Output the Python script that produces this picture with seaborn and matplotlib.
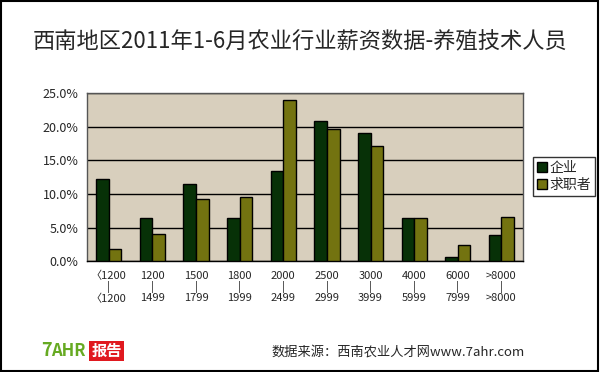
import pandas as pd
import matplotlib.pyplot as plt
import seaborn as sns
from matplotlib.patches import Rectangle

# 数据
salary_bins = ["<1200", "1200", "1500", "1800", "2000", "2500", "3000", "4000", "6000", ">8000"]
tick_labels = [
    "〈1200\n|\n〈1200", "1200\n|\n1499", "1500\n|\n1799", "1800\n|\n1999", "2000\n|\n2499",
    "2500\n|\n2999", "3000\n|\n3999", "4000\n|\n5999", "6000\n|\n7999", ">8000\n|\n>8000",
]
qiye = [12.2, 6.4, 11.5, 6.4, 13.4, 20.9, 19.0, 6.4, 0.55, 3.9]
qiuzhizhe = [1.75, 4.1, 9.2, 9.5, 23.9, 19.7, 17.1, 6.4, 2.4, 6.5]
series = ["企业", "求职者"]


def main():
    sns.set_style("white")
    plt.rcParams["font.family"] = ["Noto Sans CJK SC", "DejaVu Sans"]

    df = pd.DataFrame({"bin": salary_bins, "企业": qiye, "求职者": qiuzhizhe})
    long_df = df.melt(id_vars="bin", value_vars=series, var_name="类型", value_name="比例")

    fig = plt.figure(figsize=(6, 3.72), dpi=100)
    fig.patch.set_facecolor("white")
    fig.patches.append(Rectangle((0.002, 0.003), 0.994, 0.994, transform=fig.transFigure,
                                 fill=False, edgecolor="black", linewidth=1.5))

    ax = fig.add_axes([0.145, 0.298, 0.727, 0.452])
    ax.set_facecolor("#d8cfbd")
    sns.barplot(data=long_df, x="bin", y="比例", hue="类型", ax=ax,
                palette=["#003800", "#838300"], width=0.58, edgecolor="black",
                linewidth=1.0, zorder=3)

    ax.set_ylim(0, 25)
    ax.set_yticks([0, 5, 10, 15, 20, 25])
    ax.set_yticklabels([f"{v:.1f}%" for v in [0, 5, 10, 15, 20, 25]], fontsize=9)
    ax.yaxis.grid(True, color="black", linewidth=1.0, zorder=1)
    ax.set_axisbelow(True)
    ax.set_xlim(-0.5, len(salary_bins) - 0.5)
    ax.set_xticks(range(len(salary_bins)))
    ax.set_xticklabels(tick_labels, fontsize=8, linespacing=1.0)
    ax.tick_params(axis="x", length=0, pad=7)
    ax.tick_params(axis="y", length=0, pad=6)
    ax.set_xlabel("")
    ax.set_ylabel("")
    for side in ["left", "bottom", "top", "right"]:
        ax.spines[side].set_visible(True)
        ax.spines[side].set_color("#555555")
        ax.spines[side].set_linewidth(1.0)
    ax.spines["bottom"].set_color("black")

    handles, labels = ax.get_legend_handles_labels()
    ax.legend(handles, labels, loc="upper left", bbox_to_anchor=(0.888, 0.578),
              bbox_transform=fig.transFigure, fontsize=10, frameon=True,
              fancybox=False, edgecolor="black", handlelength=0.7,
              handleheight=0.7, handletextpad=0.2, borderpad=0.3,
              labelspacing=0.2, borderaxespad=0)
    ax.get_legend().get_frame().set_linewidth(1.0)

    fig.text(0.5, 0.888, "西南地区2011年1-6月农业行业薪资数据-养殖技术人员",
             ha="center", va="center", fontsize=16)

    # 页脚
    fig.text(0.068, 0.057, "7", color="#66aa22", fontsize=13, fontweight="bold",
             ha="left", va="center", style="italic")
    fig.text(0.085, 0.057, "AHR", color="#66aa22", fontsize=12, fontweight="bold",
             ha="left", va="center")
    fig.text(0.152, 0.057, "报告", color="white", fontsize=11, fontweight="bold",
             ha="left", va="center",
             bbox=dict(facecolor="#e0191f", edgecolor="none", pad=1.5))
    fig.text(0.875, 0.055, "数据来源：西南农业人才网www.7ahr.com", ha="right",
             va="center", fontsize=9.5)

    fig.savefig("out.png", dpi=100)


if __name__ == "__main__":
    main()
